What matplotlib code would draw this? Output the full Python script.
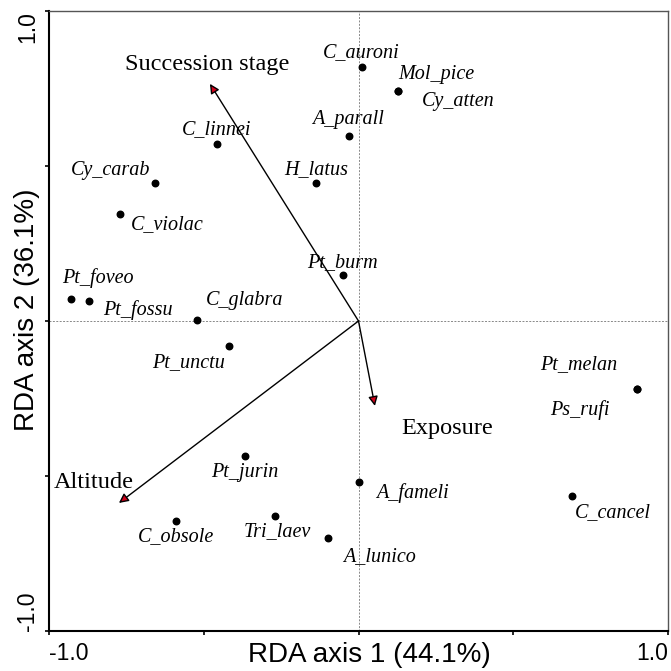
import matplotlib
matplotlib.use("Agg")
import matplotlib.pyplot as plt

# species scores (RDA axis 1, RDA axis 2)
species = ["C_auroni", "Mol_pice", "Cy_atten", "A_parall", "H_latus", "C_linnei",
           "Cy_carab", "C_violac", "Pt_foveo", "Pt_fossu", "C_glabra", "Pt_burm",
           "Pt_unctu", "Pt_jurin", "C_obsole", "Tri_laev", "A_lunico", "A_fameli",
           "C_cancel", "Pt_melan", "Ps_rufi"]
sp_x = [0.011, 0.128, 0.128, -0.031, -0.137, -0.457,
        -0.658, -0.771, -0.929, -0.871, -0.522, -0.050,
        -0.418, -0.367, -0.590, -0.270, -0.099, 0.002,
        0.690, 0.900, 0.900]
sp_y = [0.819, 0.742, 0.742, 0.597, 0.445, 0.571,
        0.445, 0.345, 0.071, 0.065, 0.003, 0.148,
        -0.081, -0.435, -0.645, -0.629, -0.700, -0.519,
        -0.565, -0.219, -0.219]

# environmental variables (arrow tips)
env = ["Succession stage", "Exposure", "Altitude"]
env_x = [-0.480, 0.053, -0.774]
env_y = [0.765, -0.274, -0.587]

xlabel = "RDA axis 1 (44.1%)"
ylabel = "RDA axis 2 (36.1%)"

# label placement, offsets in pixels from the point
sp_off = [(-1, 15), (38, 16), (60, -11), (-1, 16), (0, 13), (0, 14),
          (-44, 13), (47, -11), (27, 21), (49, -9), (48, 20), (-1, 13),
          (-41, -16), (0, -17), (0, -16), (2, -16), (52, -19), (53, -11),
          (41, -16), (-58, 24), (-57, -21)]
env_off = [(-3, 19), (72, -23), (-25, 20)]

fig = plt.figure(figsize=(6.71, 6.71), dpi=100)
ax = fig.add_axes([49 / 671, 40 / 671, 619 / 671, 620 / 671])
ax.set_xlim(-1, 1)
ax.set_ylim(-1, 1)

# zero lines
ax.axhline(0, color="#888888", lw=0.7, ls=(0, (2, 1.5)), zorder=1)
ax.axvline(0, color="#888888", lw=0.7, ls=(0, (2, 1.5)), zorder=1)

# arrows
for name, x, y, off in zip(env, env_x, env_y, env_off):
    ax.annotate("", xy=(x, y), xytext=(0, 0),
                arrowprops=dict(arrowstyle="-|>", color="black", fc="#d0021b",
                                lw=1.0, mutation_scale=14, shrinkA=0, shrinkB=0),
                zorder=3)
    ax.annotate(name, xy=(x, y), xytext=off, textcoords="offset pixels",
                ha="center", va="center", fontsize=17.5,
                family="Liberation Serif")

# species points
ax.scatter(sp_x, sp_y, s=22, color="black", zorder=4)
for name, x, y, off in zip(species, sp_x, sp_y, sp_off):
    ax.annotate(name, xy=(x, y), xytext=off, textcoords="offset pixels",
                ha="center", va="center", fontsize=14.5, style="italic",
                family="Liberation Serif")

# frame
for side in ["left", "bottom"]:
    ax.spines[side].set_linewidth(1.5)
    ax.spines[side].set_color("black")
for side in ["top", "right"]:
    ax.spines[side].set_linewidth(1.0)
    ax.spines[side].set_color("#555555")

ticks = [-1, -0.5, 0, 0.5, 1]
labels = ["-1.0", "", "", "", "1.0"]
ax.set_xticks(ticks)
ax.set_xticklabels(labels, family="Liberation Sans", fontsize=16.5)
ax.set_yticks(ticks)
ax.set_yticklabels(labels, family="Liberation Sans", fontsize=16.5,
                   rotation=90)
ax.tick_params(direction="out", length=3, width=1.2, top=False, right=False)
ax.tick_params(axis="x", pad=5)
ax.tick_params(axis="y", pad=4)
xt = ax.get_xticklabels()
xt[0].set_ha("left")
xt[-1].set_ha("right")
yt = ax.get_yticklabels()
yt[0].set_va("bottom")
yt[-1].set_va("top")
for t in yt:
    t.set_rotation_mode("default")

fig.text(369 / 671, 9 / 671, xlabel, ha="center", va="baseline",
         family="Liberation Sans", fontsize=20)
fig.text(27 / 671, 1 - 310 / 671, ylabel, ha="center", va="center",
         rotation=90, family="Liberation Sans", fontsize=20)

fig.savefig("out.png", dpi=100)
